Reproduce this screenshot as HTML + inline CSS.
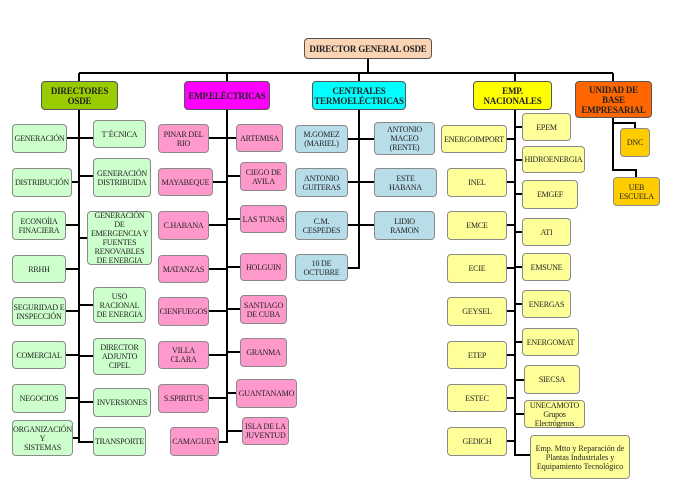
<!DOCTYPE html>
<html><head><meta charset="utf-8"><style>
body{margin:0;width:675px;height:483px;background:#fff;position:relative;overflow:hidden;font-family:"Liberation Serif",serif;}
.b{position:absolute;box-sizing:border-box;border:1px solid #8a8a8a;border-radius:4px;display:flex;align-items:center;justify-content:center;text-align:center;font-size:8px;line-height:9px;color:#222;letter-spacing:-0.2px;}
.h{font-weight:bold;font-size:9px;line-height:10px;color:#222;border-color:#555;}
.g{background:#ccffcc}.p{background:#ff99cc}.c{background:#b7dde8}.y{background:#ffff99}.o{background:#ffcc00}
svg{position:absolute;left:0;top:0}
</style></head><body>
<svg width="675" height="483" stroke="#000" stroke-width="2" fill="none">
<path d="M368 59V73M79 73H613M79 73V81M227 73V81M359 73V81M515 73V81M613 73V81"/>
<path d="M79 110V442H93M67 138H93M72 182H79M79 176H93M66 225H79M79 238H87M66 269H79M79 305H93M66 311H79M79 356H93M66 355H79M66 398H79M79 402H93M73 438H79"/>
<path d="M227 110V442H219M209 138H236M213 182H227M227 176H240M209 225H227M227 219H240M209 269H227M227 267H240M209 311H227M227 309H240M209 355H227M227 352H240M209 398H227M227 393H236M227 431H242"/>
<path d="M359 110V268H348M348 139H374M348 182H374M348 225H374"/>
<path d="M515 110V455H530M507 139H515M515 127H522M515 160H522M507 182H515M515 194H522M507 225H515M515 232H522M507 268H515M515 267H522M507 311H515M515 304H522M507 355H515M515 342H522M507 398H515M515 380H524M515 414H524M507 441H515"/>
<path d="M613 118V170H636V177M613 123H635V128"/>
</svg>
<div class="b h" style="left:304px;top:38px;width:128px;height:21px;background:#fbd4b4">DIRECTOR GENERAL OSDE</div>
<div class="b h" style="left:41px;top:81px;width:77px;height:29px;background:#99cc00">DIRECTORES<br>OSDE</div>
<div class="b h" style="left:184px;top:81px;width:86px;height:29px;background:#ff00ff">EMP.ELÉCTRICAS</div>
<div class="b h" style="left:312px;top:81px;width:94px;height:29px;background:#00ffff">CENTRALES<br>TERMOELÉCTRICAS</div>
<div class="b h" style="left:473px;top:81px;width:79px;height:29px;background:#ffff00">EMP.<br>NACIONALES</div>
<div class="b h" style="left:575px;top:81px;width:77px;height:37px;background:#ff6600">UNIDAD DE<br>BASE<br>EMPRESARIAL</div>

<div class="b g" style="left:12px;top:124px;width:55px;height:29px">GENERACIÓN</div>
<div class="b g" style="left:12px;top:168px;width:60px;height:29px">DISTRIBUCIÓN</div>
<div class="b g" style="left:12px;top:211px;width:54px;height:29px">ECONOÍIA<br>FINACIERA</div>
<div class="b g" style="left:12px;top:255px;width:54px;height:28px">RRHH</div>
<div class="b g" style="left:12px;top:297px;width:54px;height:29px">SEGURIDAD E<br>INSPECCIÓN</div>
<div class="b g" style="left:12px;top:341px;width:54px;height:28px">COMERCIAL</div>
<div class="b g" style="left:12px;top:384px;width:54px;height:29px">NEGOCIOS</div>
<div class="b g" style="left:12px;top:420px;width:61px;height:36px">ORGANIZACIÓN<br>Y<br>SISTEMAS</div>
<div class="b g" style="left:93px;top:120px;width:53px;height:28px">T´ÉCNICA</div>
<div class="b g" style="left:93px;top:158px;width:58px;height:39px">GENERACIÓN<br>DISTRIBUIDA</div>
<div class="b g" style="left:87px;top:211px;width:65px;height:54px">GENERACIÓN<br>DE<br>EMERGENCIA Y<br>FUENTES<br>RENOVABLES<br>DE ENERGIA</div>
<div class="b g" style="left:93px;top:287px;width:53px;height:36px">USO<br>RACIONAL<br>DE ENERGIA</div>
<div class="b g" style="left:93px;top:338px;width:53px;height:37px">DIRECTOR<br>ADJUNTO<br>CIPEL</div>
<div class="b g" style="left:93px;top:388px;width:58px;height:29px">INVERSIONES</div>
<div class="b g" style="left:93px;top:427px;width:53px;height:29px">TRANSPORTE</div>

<div class="b p" style="left:158px;top:124px;width:51px;height:29px">PINAR DEL<br>RIO</div>
<div class="b p" style="left:158px;top:168px;width:55px;height:28px">MAYABEQUE</div>
<div class="b p" style="left:158px;top:211px;width:51px;height:29px">C.HABANA</div>
<div class="b p" style="left:158px;top:255px;width:51px;height:28px">MATANZAS</div>
<div class="b p" style="left:158px;top:297px;width:51px;height:29px">CIENFUEGOS</div>
<div class="b p" style="left:158px;top:341px;width:51px;height:28px">VILLA<br>CLARA</div>
<div class="b p" style="left:158px;top:384px;width:51px;height:29px">S.SPIRITUS</div>
<div class="b p" style="left:170px;top:427px;width:49px;height:29px">CAMAGUEY</div>
<div class="b p" style="left:236px;top:124px;width:47px;height:28px">ARTEMISA</div>
<div class="b p" style="left:240px;top:162px;width:47px;height:29px">CIEGO DE<br>AVILA</div>
<div class="b p" style="left:240px;top:205px;width:47px;height:28px">LAS TUNAS</div>
<div class="b p" style="left:240px;top:253px;width:47px;height:28px">HOLGUIN</div>
<div class="b p" style="left:240px;top:295px;width:47px;height:29px">SANTIAGO<br>DE CUBA</div>
<div class="b p" style="left:240px;top:338px;width:47px;height:29px">GRANMA</div>
<div class="b p" style="left:236px;top:379px;width:61px;height:29px">GUANTANAMO</div>
<div class="b p" style="left:242px;top:417px;width:47px;height:28px">ISLA DE LA<br>JUVENTUD</div>

<div class="b c" style="left:295px;top:125px;width:53px;height:28px">M.GOMEZ<br>(MARIEL)</div>
<div class="b c" style="left:295px;top:168px;width:53px;height:29px">ANTONIO<br>GUITERAS</div>
<div class="b c" style="left:295px;top:211px;width:53px;height:29px">C.M.<br>CESPEDES</div>
<div class="b c" style="left:295px;top:254px;width:53px;height:27px">10 DE<br>OCTUBRE</div>
<div class="b c" style="left:374px;top:122px;width:61px;height:33px">ANTONIO<br>MACEO<br>(RENTE)</div>
<div class="b c" style="left:374px;top:168px;width:63px;height:29px">ESTE<br>HABANA</div>
<div class="b c" style="left:374px;top:211px;width:61px;height:29px">LIDIO<br>RAMON</div>

<div class="b y" style="left:441px;top:125px;width:66px;height:28px">ENERGOIMPORT</div>
<div class="b y" style="left:447px;top:168px;width:60px;height:29px">INEL</div>
<div class="b y" style="left:447px;top:211px;width:60px;height:29px">EMCE</div>
<div class="b y" style="left:447px;top:254px;width:60px;height:29px">ECIE</div>
<div class="b y" style="left:447px;top:297px;width:60px;height:29px">GEYSEL</div>
<div class="b y" style="left:447px;top:341px;width:60px;height:28px">ETEP</div>
<div class="b y" style="left:447px;top:384px;width:60px;height:28px">ESTEC</div>
<div class="b y" style="left:447px;top:427px;width:60px;height:29px">GEDICH</div>
<div class="b y" style="left:522px;top:113px;width:49px;height:28px">EPEM</div>
<div class="b y" style="left:522px;top:146px;width:63px;height:27px">HIDROENERGIA</div>
<div class="b y" style="left:522px;top:180px;width:56px;height:29px">EMGEF</div>
<div class="b y" style="left:522px;top:218px;width:49px;height:28px">ATI</div>
<div class="b y" style="left:522px;top:253px;width:49px;height:28px">EMSUNE</div>
<div class="b y" style="left:522px;top:290px;width:49px;height:28px">ENERGAS</div>
<div class="b y" style="left:522px;top:328px;width:57px;height:28px">ENERGOMAT</div>
<div class="b y" style="left:524px;top:365px;width:56px;height:29px">SIECSA</div>
<div class="b y" style="left:524px;top:400px;width:61px;height:28px">UNECAMOTO<br>Grupos<br>Electrógenos</div>
<div class="b y" style="left:530px;top:435px;width:100px;height:44px;font-size:8px;letter-spacing:0">Emp. Mtto y Reparación de<br>Plantas Industriales y<br>Equipamiento Tecnológico</div>

<div class="b o" style="left:620px;top:128px;width:30px;height:29px">DNC</div>
<div class="b o" style="left:613px;top:177px;width:47px;height:29px">UEB<br>ESCUELA</div>
</body></html>
